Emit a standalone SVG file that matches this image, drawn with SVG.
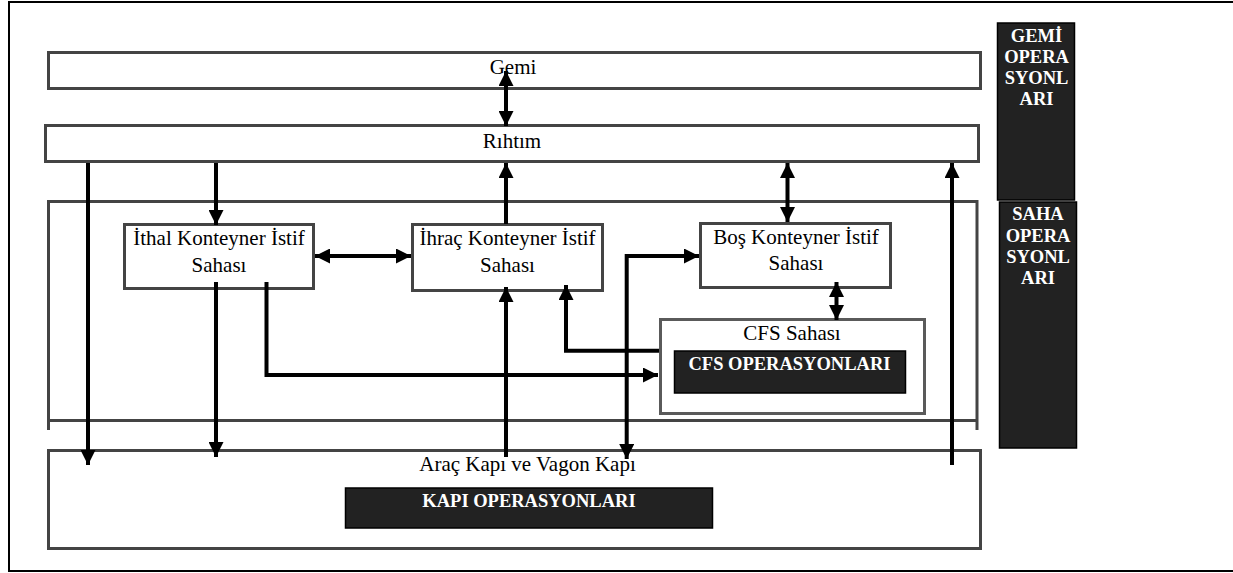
<svg xmlns="http://www.w3.org/2000/svg" width="1233" height="573" viewBox="0 0 1233 573">
<style>
.box{fill:#fff;stroke:#444;stroke-width:3}
.cfs{fill:#fff;stroke:#5a5a5a;stroke-width:3}
.ops{fill:#222;stroke:#000;stroke-width:1.5}
.t{font-family:"Liberation Serif","Times New Roman",serif;font-size:21px;fill:#000;text-anchor:middle}
.w{font-family:"Liberation Serif","Times New Roman",serif;font-size:18.5px;font-weight:bold;fill:#fff;text-anchor:middle}
.c{fill:none;stroke:#000;stroke-width:4}
</style>
<defs>
<marker id="ah" markerUnits="userSpaceOnUse" markerWidth="15" markerHeight="15" viewBox="0 0 15 15" refX="15" refY="7.5" orient="auto-start-reverse">
<path d="M0,0 L15,7.5 L0,15 z" fill="#000"/>
</marker>
</defs>
<path d="M1240,2 H9 V571 H1240" fill="none" stroke="#000" stroke-width="2"/>
<g id="saha-area">
<path d="M48.5,430 V201.5 H977 V430" fill="none" stroke="#444" stroke-width="3"/>
<path d="M48.5,420.5 H977" fill="none" stroke="#444" stroke-width="3"/>
</g>
<g id="gemi">
<rect class="box" x="48.5" y="52.5" width="932" height="36"/>
<text class="t" x="513" y="74">Gemi</text>
</g>
<g id="rihtim">
<rect class="box" x="45.5" y="125.5" width="933" height="36"/>
<text class="t" x="512" y="148">Rıhtım</text>
</g>
<g id="kapi">
<rect class="box" x="48.5" y="450.5" width="932" height="98"/>
<text class="t" x="527.5" y="471">Araç Kapı ve Vagon Kapı</text>
</g>
<g id="kapi-ops">
<rect class="ops" x="345.5" y="488" width="367" height="40"/>
<text class="w" x="529" y="507">KAPI OPERASYONLARI</text>
</g>
<g id="ithal">
<rect class="box" x="124.5" y="224.5" width="189" height="64"/>
<text class="t" x="219" y="245">İthal Konteyner İstif</text>
<text class="t" x="219" y="272">Sahası</text>
</g>
<g id="ihrac">
<rect class="box" x="412.5" y="224.5" width="190" height="66"/>
<text class="t" x="507.5" y="245">İhraç Konteyner İstif</text>
<text class="t" x="507.5" y="272">Sahası</text>
</g>
<g id="bos">
<rect class="box" x="700.5" y="223.5" width="190" height="64"/>
<text class="t" x="796" y="243.5">Boş Konteyner İstif</text>
<text class="t" x="796" y="270">Sahası</text>
</g>
<g id="cfs">
<rect class="cfs" x="660.5" y="319.5" width="264" height="94"/>
<text class="t" x="792" y="340">CFS Sahası</text>
</g>
<g id="cfs-ops">
<rect class="ops" x="674.5" y="351" width="231" height="42"/>
<text class="w" x="789.5" y="370">CFS OPERASYONLARI</text>
</g>
<g id="gemi-ops">
<rect class="ops" x="997.5" y="23" width="77" height="177"/>
<text class="w" x="1036.5" y="42">GEMİ</text>
<text class="w" x="1036.5" y="63">OPERA</text>
<text class="w" x="1036.5" y="84">SYONL</text>
<text class="w" x="1036.5" y="105">ARI</text>
</g>
<g id="saha-ops">
<rect class="ops" x="999.5" y="202" width="77" height="246"/>
<text class="w" x="1038" y="220">SAHA</text>
<text class="w" x="1038" y="241.5">OPERA</text>
<text class="w" x="1038" y="263">SYONL</text>
<text class="w" x="1038" y="284">ARI</text>
</g>
<g id="connectors">
<path class="c" d="M506,71 V126" marker-start="url(#ah)" marker-end="url(#ah)"/>
<path class="c" d="M88,163 V465" marker-end="url(#ah)"/>
<path class="c" d="M216,163 V225" marker-end="url(#ah)"/>
<path class="c" d="M216,282 V457" marker-end="url(#ah)"/>
<path class="c" d="M266.5,282 V375 H658" marker-end="url(#ah)"/>
<path class="c" d="M315,256 H411" marker-start="url(#ah)" marker-end="url(#ah)"/>
<path class="c" d="M506,224 V163" marker-end="url(#ah)"/>
<path class="c" d="M506,457 V287" marker-end="url(#ah)"/>
<path class="c" d="M659,350.7 H566 V285" marker-end="url(#ah)"/>
<path class="c" d="M626.7,459 V256 H699" marker-start="url(#ah)" marker-end="url(#ah)"/>
<path class="c" d="M836.5,282 V320" marker-start="url(#ah)" marker-end="url(#ah)"/>
<path class="c" d="M787.5,163 V222" marker-start="url(#ah)" marker-end="url(#ah)"/>
<path class="c" d="M952,465 V163" marker-end="url(#ah)"/>
</g>
</svg>
